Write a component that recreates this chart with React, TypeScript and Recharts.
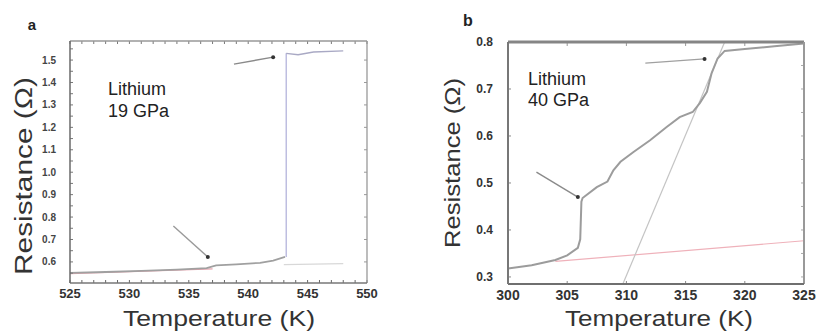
import React from 'react';
import { ComposedChart, Line, XAxis, YAxis } from 'recharts';

const FONT = '"Liberation Sans", Arial, Helvetica, sans-serif';

// ---------- Panel a (19 GPa) ----------
const aXTicks = [525, 526, 527, 528, 529, 530, 531, 532, 533, 534, 535, 536, 537, 538, 539, 540, 541, 542, 543, 544, 545, 546, 547, 548, 549, 550];
const aYTicks = [0.55, 0.6, 0.65, 0.7, 0.75, 0.8, 0.85, 0.9, 0.95, 1.0, 1.05, 1.1, 1.15, 1.2, 1.25, 1.3, 1.35, 1.4, 1.45, 1.5, 1.55];
const aTopTicks = aXTicks;
const aRightTicks = [0.6, 0.7, 0.8, 0.9, 1.0, 1.1, 1.2, 1.3, 1.4, 1.5];
const aXDomain = [525, 550];
const aYDomain = [0.506, 1.585];
const aLower = [
  { x: 525, y: 0.551 }, { x: 528, y: 0.555 }, { x: 531, y: 0.56 }, { x: 534, y: 0.566 },
  { x: 536.5, y: 0.572 }, { x: 537.3, y: 0.585 }, { x: 539, y: 0.589 }, { x: 541, y: 0.596 },
  { x: 542.1, y: 0.606 }, { x: 543.1, y: 0.622 },
];
const aJump = [{ x: 543.2, y: 0.622 }, { x: 543.2, y: 1.53 }];
const aUpper = [{ x: 543.2, y: 1.53 }, { x: 544.2, y: 1.524 }, { x: 545.5, y: 1.536 }, { x: 548, y: 1.541 }];
const aPinkBase = [{ x: 525, y: 0.548 }, { x: 537, y: 0.569 }];
const aGrayBase = [{ x: 543, y: 0.588 }, { x: 548, y: 0.592 }];
const aArrowUpper = [{ x: 538.8, y: 1.482 }, { x: 542.1, y: 1.513 }];
const aArrowLower = [{ x: 533.7, y: 0.76 }, { x: 536.6, y: 0.622 }];

// ---------- Panel b (40 GPa) ----------
const bXTicks = [300, 305, 310, 315, 320, 325];
const bYTicks = [0.3, 0.4, 0.5, 0.6, 0.7, 0.8];
const bRightTicks = [0.3, 0.35, 0.4, 0.45, 0.5, 0.55, 0.6, 0.65, 0.7, 0.75];
const bXDomain = [300, 325];
const bYDomain = [0.285, 0.8];
const bCurve = [
  { x: 300, y: 0.318 }, { x: 302, y: 0.325 }, { x: 304, y: 0.336 }, { x: 305, y: 0.346 },
  { x: 305.9, y: 0.362 }, { x: 306.1, y: 0.38 }, { x: 306.2, y: 0.46 }, { x: 306.3, y: 0.468 },
  { x: 307.5, y: 0.491 }, { x: 308.4, y: 0.503 }, { x: 308.9, y: 0.527 }, { x: 309.5, y: 0.545 },
  { x: 310.6, y: 0.566 }, { x: 312, y: 0.591 }, { x: 313.4, y: 0.619 }, { x: 314.5, y: 0.64 },
  { x: 315.6, y: 0.651 }, { x: 316.2, y: 0.67 }, { x: 316.8, y: 0.694 }, { x: 317.2, y: 0.734 },
  { x: 317.7, y: 0.765 }, { x: 318.3, y: 0.781 }, { x: 320, y: 0.785 }, { x: 322.5, y: 0.791 },
  { x: 325, y: 0.797 },
];
const bSlope = [{ x: 309.7, y: 0.285 }, { x: 318.3, y: 0.8 }];
const bPink = [{ x: 304, y: 0.333 }, { x: 325, y: 0.377 }];
const bArrowUpper = [{ x: 311.6, y: 0.755 }, { x: 316.6, y: 0.764 }];
const bArrowLower = [{ x: 302.4, y: 0.523 }, { x: 305.9, y: 0.47 }];

// layout of the two plot boxes (pixels inside each panel)
const A_BOX = { left: 40, top: 40, width: 410, height: 333, axisW: 30, topH: 1, rightW: 1, right: 42, bottom: 30, xAxisH: 20 };
const B_BOX = { left: 58, top: 41, width: 407, height: 333, axisW: 40, topH: 1, rightW: 1, right: 12, bottom: 29, xAxisH: 20 };

const plotRect = (b: typeof A_BOX) => {
  const x = b.left + b.axisW;
  const y = b.top + b.topH;
  return { x, y, w: b.width - b.right - b.rightW - x, h: b.height - b.bottom - b.xAxisH - y };
};

const arrowDot = (props: any) => {
  const { cx, cy, index } = props;
  if (index !== 1) return <g key={`d${index}`} />;
  return <circle key={`d${index}`} cx={cx} cy={cy} r={2} fill="#333" stroke="none" />;
};

const fmtA = (v: number) => (Math.round(v) % 5 === 0 ? String(v) : '');
const fmtAY = (v: number) => (Math.round(v * 100) % 10 === 0 ? v.toFixed(1) : '');

const topTick = (len: number, color: string) => (p: any) => (
  <line key={`t${p.index}`} x1={p.x} x2={p.x} y1={p.y} y2={p.y + len} stroke={color} strokeWidth={1} />
);
const rightTick = (len: number, color: string) => (p: any) => (
  <line key={`r${p.index}`} x1={p.x} x2={p.x - len} y1={p.y} y2={p.y} stroke={color} strokeWidth={1} />
);

type Side = [string, number];
function FrameOverlay({ box, top, right, bottom, left }: { box: typeof A_BOX; top: Side; right: Side; bottom: Side; left: Side }) {
  const r = plotRect(box);
  return (
    <svg width={box.width} height={box.height} style={{ position: 'absolute', left: 0, top: 0, pointerEvents: 'none' }}>
      <line x1={r.x} x2={r.x + r.w} y1={r.y} y2={r.y} stroke={top[0]} strokeWidth={top[1]} />
      <line x1={r.x + r.w} x2={r.x + r.w} y1={r.y} y2={r.y + r.h} stroke={right[0]} strokeWidth={right[1]} />
      <line x1={r.x} x2={r.x + r.w} y1={r.y + r.h} y2={r.y + r.h} stroke={bottom[0]} strokeWidth={bottom[1]} />
      <line x1={r.x} x2={r.x} y1={r.y} y2={r.y + r.h} stroke={left[0]} strokeWidth={left[1]} />
    </svg>
  );
}

function PanelA() {
  const b = A_BOX;
  return (
    <ComposedChart width={b.width} height={b.height} margin={{ top: b.top, right: b.right, bottom: b.bottom, left: b.left }}>
      <XAxis
        type="number" dataKey="x" domain={aXDomain} ticks={aXTicks} interval={0}
        allowDataOverflow height={b.xAxisH} tickSize={-3} tickMargin={9}
        tickFormatter={fmtA}
        axisLine={false} tickLine={{ stroke: '#666' }}
        tick={{ fontSize: 13, fill: '#333', fontWeight: 'bold', fontFamily: FONT }}
      />
      <XAxis
        xAxisId="top" orientation="top" type="number" dataKey="x" domain={aXDomain} allowDataOverflow
        ticks={aTopTicks} interval={0} height={b.topH} tickSize={0} tickMargin={0} tick={topTick(3, '#777')}
        axisLine={false} tickLine={false}
      />
      <YAxis
        type="number" domain={aYDomain} ticks={aYTicks} interval={0} allowDataOverflow
        width={b.axisW} tickSize={-3} tickMargin={17} tickFormatter={fmtAY}
        axisLine={false} tickLine={{ stroke: '#777' }}
        tick={{ fontSize: 10, fill: '#444', fontWeight: 'bold', fontFamily: FONT }}
      />
      <YAxis
        yAxisId="right" orientation="right" type="number" domain={aYDomain} allowDataOverflow
        ticks={aRightTicks} interval={0} width={b.rightW} tickSize={0} tickMargin={0} tick={rightTick(3, '#999')}
        axisLine={false} tickLine={false}
      />
      <Line data={aPinkBase} dataKey="y" stroke="#e6a3ad" strokeWidth={1.2} dot={false} isAnimationActive={false} />
      <Line data={aGrayBase} dataKey="y" stroke="#d8d8d8" strokeWidth={1.2} dot={false} isAnimationActive={false} />
      <Line data={aLower} dataKey="y" type="linear" stroke="#a0a0a0" strokeWidth={1.8} dot={false} isAnimationActive={false} />
      <Line data={aJump} dataKey="y" stroke="#b4b4dc" strokeWidth={1.3} dot={false} isAnimationActive={false} />
      <Line data={aUpper} dataKey="y" stroke="#a9a9c4" strokeWidth={1.4} dot={false} isAnimationActive={false} />
      <Line data={aArrowUpper} dataKey="y" stroke="#8a8a8a" strokeWidth={1.4} dot={arrowDot} isAnimationActive={false} />
      <Line data={aArrowLower} dataKey="y" stroke="#9a9a9a" strokeWidth={1.4} dot={arrowDot} isAnimationActive={false} />
      <text x={32} y={30} textAnchor="middle" fontFamily={FONT} fontWeight="bold" fontSize={15} fill="#222">a</text>
      <text x={108} y={95} fontFamily={FONT} fontSize={18} fill="#222">Lithium</text>
      <text x={108} y={117} fontFamily={FONT} fontSize={18} fill="#222">19 GPa</text>
      <text x={219} y={326} textAnchor="middle" fontFamily={FONT} fontSize={22} fill="#333"
        textLength={192} lengthAdjust="spacingAndGlyphs">Temperature (K)</text>
      <text x={32} y={176} textAnchor="middle" fontFamily={FONT} fontSize={23} fill="#333"
        transform="rotate(-90 32 176)" textLength={198} lengthAdjust="spacingAndGlyphs">Resistance (Ω)</text>
    </ComposedChart>
  );
}

function PanelB() {
  const b = B_BOX;
  return (
    <ComposedChart width={b.width} height={b.height} margin={{ top: b.top, right: b.right, bottom: b.bottom, left: b.left }}>
      <XAxis
        type="number" dataKey="x" domain={bXDomain} ticks={bXTicks} interval={0}
        allowDataOverflow height={b.xAxisH} tickSize={-3} tickMargin={9}
        axisLine={false} tickLine={{ stroke: '#888' }}
        tick={{ fontSize: 14, fill: '#333', fontWeight: 'bold', fontFamily: FONT }}
      />
      <XAxis
        xAxisId="top" orientation="top" type="number" dataKey="x" domain={bXDomain} allowDataOverflow
        ticks={bXTicks} interval={0} height={b.topH} tickSize={0} tickMargin={0} tick={topTick(4, '#999')}
        axisLine={false} tickLine={false}
      />
      <YAxis
        type="number" domain={bYDomain} ticks={bYTicks} interval={0} allowDataOverflow
        width={b.axisW} tickSize={-3} tickMargin={18} tickFormatter={(v: number) => v.toFixed(1)}
        axisLine={false} tickLine={{ stroke: '#888' }}
        tick={{ fontSize: 12, fill: '#333', fontWeight: 'bold', fontFamily: FONT }}
      />
      <YAxis
        yAxisId="right" orientation="right" type="number" domain={bYDomain} allowDataOverflow
        ticks={bRightTicks} interval={0} width={b.rightW} tickSize={0} tickMargin={0} tick={rightTick(3, '#aaa')}
        axisLine={false} tickLine={false}
      />
      <Line data={bPink} dataKey="y" stroke="#efb1ba" strokeWidth={1.2} dot={false} isAnimationActive={false} />
      <Line data={bSlope} dataKey="y" stroke="#c4c4c4" strokeWidth={1.2} dot={false} isAnimationActive={false} />
      <Line data={bCurve} dataKey="y" type="linear" stroke="#9c9c9c" strokeWidth={2} dot={false} isAnimationActive={false} />
      <Line data={bArrowUpper} dataKey="y" stroke="#a0a0a0" strokeWidth={1.4} dot={arrowDot} isAnimationActive={false} />
      <Line data={bArrowLower} dataKey="y" stroke="#8a8a8a" strokeWidth={1.4} dot={arrowDot} isAnimationActive={false} />
      <text x={58} y={26} textAnchor="middle" fontFamily={FONT} fontWeight="bold" fontSize={16} fill="#222">b</text>
      <text x={118} y={85} fontFamily={FONT} fontSize={18} fill="#222">Lithium</text>
      <text x={118} y={106} fontFamily={FONT} fontSize={18} fill="#222">40 GPa</text>
      <text x={249} y={326} textAnchor="middle" fontFamily={FONT} fontSize={22} fill="#333"
        textLength={188} lengthAdjust="spacingAndGlyphs">Temperature (K)</text>
      <text x={50} y={163} textAnchor="middle" fontFamily={FONT} fontSize={22} fill="#333"
        transform="rotate(-90 50 163)" textLength={170} lengthAdjust="spacingAndGlyphs">Resistance (Ω)</text>
    </ComposedChart>
  );
}

export default function App() {
  return (
    <div style={{ position: 'absolute', left: 0, top: 0, width: 817, height: 333, background: '#fff', overflow: 'hidden' }}>
      <div style={{ position: 'absolute', left: 0, top: 0, width: 410, height: 333 }}>
        <PanelA />
        <FrameOverlay box={A_BOX} top={['#999', 1.3]} right={['#999', 1.3]} bottom={['#777', 1.5]} left={['#6a6a6a', 1.5]} />
      </div>
      <div style={{ position: 'absolute', left: 410, top: 0, width: 407, height: 333 }}>
        <PanelB />
        <FrameOverlay box={B_BOX} top={['#858585', 3]} right={['#999', 2]} bottom={['#6f6f6f', 2]} left={['#777', 2]} />
      </div>
    </div>
  );
}
